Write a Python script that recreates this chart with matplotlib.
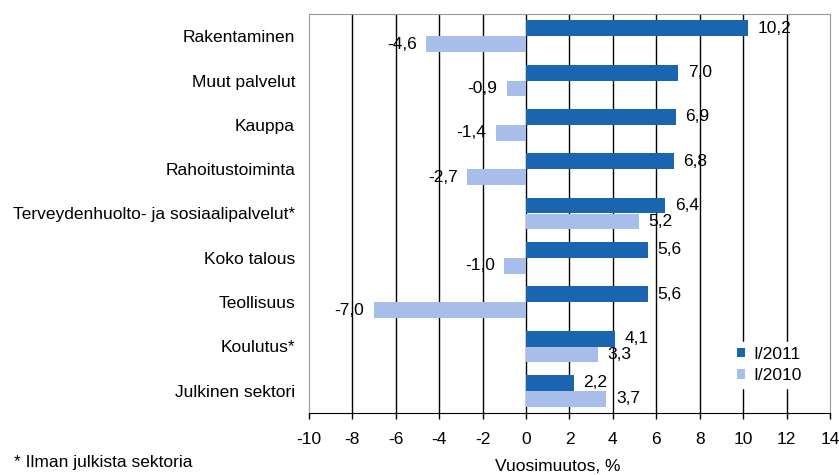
import matplotlib
matplotlib.use("Agg")
import matplotlib.pyplot as plt
import numpy as np

categories = ["Rakentaminen", "Muut palvelut", "Kauppa", "Rahoitustoiminta",
              "Terveydenhuolto- ja sosiaalipalvelut*", "Koko talous",
              "Teollisuus", "Koulutus*", "Julkinen sektori"]
v2011 = [10.2, 7.0, 6.9, 6.8, 6.4, 5.6, 5.6, 4.1, 2.2]
v2010 = [-4.6, -0.9, -1.4, -2.7, 5.2, -1.0, -7.0, 3.3, 3.7]
xticks = list(range(-10, 15, 2))

FS = 12.5
plt.rcParams['font.family'] = ['Liberation Sans', 'DejaVu Sans']
W, H = 839, 475
fig = plt.figure(figsize=(W/100, H/100), dpi=100)
ax = fig.add_axes([309/W, 1-413/H, (830-309)/W, (413-14)/H])

dark = "#1a65b0"
light = "#a7bdea"
n = len(categories)
y = np.arange(n)
h = 0.36
ax.barh(y - h/2, v2011, height=h, color=dark, label="I/2011", zorder=3)
ax.barh(y + h/2, v2010, height=h, color=light, label="I/2010", zorder=3)

def fmt(v):
    return f"{v:.1f}".replace(".", ",")

for yy, v in list(zip(y - h/2, v2011)) + list(zip(y + h/2, v2010)):
    ax.annotate(fmt(v), (v, yy), xytext=(7 if v >= 0 else -7, 0), textcoords="offset points",
                ha="left" if v >= 0 else "right", va="center", fontsize=FS, zorder=4)

ax.set_xlim(-10, 14)
ax.set_ylim(n - 0.5, -0.5)
ax.set_xticks(xticks)
ax.set_xticklabels([str(t) for t in xticks], fontsize=FS)
ax.set_yticks(y)
ax.set_yticklabels(categories, fontsize=FS)
ax.tick_params(axis="y", length=0, pad=10)
ax.tick_params(axis="x", direction="out", length=4, width=1, pad=10, color="black")
for t in xticks[1:-1]:
    ax.axvline(t, color="black", lw=1, zorder=1)
for s in ["top", "right", "left"]:
    ax.spines[s].set_color("#999999")
ax.spines["bottom"].set_color("black")

leg = ax.legend(loc="lower right", bbox_to_anchor=(0.955, 0.062), borderaxespad=0,
                frameon=True, fontsize=FS, handlelength=0.45, handleheight=0.45,
                handletextpad=0.45, labelspacing=0.35, borderpad=0.3)
leg.get_frame().set_edgecolor("white")
leg.get_frame().set_facecolor("white")
leg.get_frame().set_alpha(1)
leg.get_frame().set_boxstyle("square", pad=0)
leg.set_zorder(5)

fig.text(558/W, 1-471/H, "Vuosimuutos, %", fontsize=FS, va="baseline", ha="center")
fig.text(14/W, 1-467/H, "* Ilman julkista sektoria", fontsize=FS, va="baseline", ha="left")

fig.savefig("out.png", dpi=100)
